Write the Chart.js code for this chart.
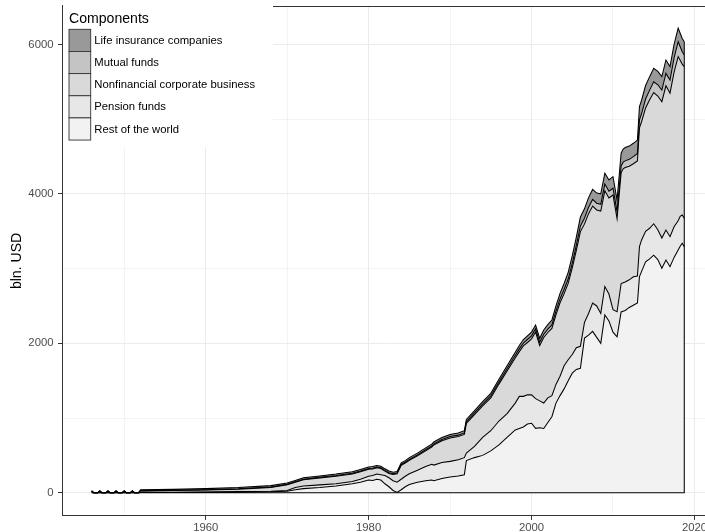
<!DOCTYPE html>
<html><head><meta charset="utf-8">
<script src="https://cdn.jsdelivr.net/npm/chart.js@4.4.1/dist/chart.umd.min.js"></script>
<style>
html,body{margin:0;padding:0;background:#fff;overflow:hidden;width:705px;height:532px;}
#wrap{position:relative;width:730px;height:532px;}
canvas{display:block;}
</style></head><body>
<div id="wrap"><canvas id="c" width="730" height="532"></canvas></div>
<script>
// ---- data (bln. USD) ----
const years = [
 1946,1946.25,1946.75,1947,1947.25,1947.75,1948,1948.25,1948.75,
 1949,1949.25,1949.75,1950,1950.25,1950.75,1951,1951.25,1951.75,
 1952,1956,1960,1964,1968,1970,1971,1972,1974,1976,
 1978,1979,1980,1980.5,1981,1981.5,1982,1982.5,1983,1983.5,
 1984,1984.5,1985,1986,1987,1987.75,1988,1989,1990,1991,
 1991.75,1992,1993,1994,1995,1996,1997,1998,1998.5,1999,
 1999.5,2000,2000.5,2001,2001.5,2002,2002.5,2003,2003.5,2004,
 2004.5,2005,2005.5,2006,2006.5,2007,2007.5,2008,2008.5,2009,
 2009.5,2010,2010.5,2011,2011.25,2011.5,2012,2012.5,2013,2013.25,
 2013.5,2014,2014.5,2015,2015.5,2016,2016.5,2017,2017.5,2018,
 2018.25,2018.5,2018.75];

const restOfWorld = [
 5,0,0,5,0,0,5,0,0, 5,0,0,5,0,0,5,0,0,
 2,3,5,8,12,20,40,55,70,90,
 120,140,170,165,180,170,120,80,30,5,
 40,80,110,140,160,170,160,190,210,225,
 240,430,470,500,560,640,740,840,860,880,
 920,930,862,870,860,940,1017,1200,1300,1390,
 1500,1600,1650,1665,2070,2110,2160,2080,2000,2380,
 2300,2150,2088,2420,2430,2440,2480,2510,2540,2892,
 2960,3090,3130,3180,3120,3004,3115,3025,3150,3250,
 3300,3339,3293];

const pensionFunds = [
 8,0,0,8,0,0,8,0,0, 8,0,0,8,0,0,8,0,0,
 3,4,5,7,8,10,30,35,35,30,
 30,40,50,65,70,70,110,120,130,135,
 140,140,145,160,190,210,210,215,210,215,
 230,101,150,240,270,320,320,360,430,410,
 390,380,398,360,340,330,283,250,260,310,
 280,250,290,295,210,290,380,420,400,380,
 360,300,335,380,380,380,370,380,360,401,
 420,410,410,420,400,406,402,402,411,390,
 400,378,380];

const nonfinancialCorp = [
 8,0,0,8,0,0,8,0,0, 8,0,0,8,0,0,8,0,0,
 20,22,26,33,52,76,71,84,94,102,
 101,100,94,89,84,84,59,59,84,114,
 187,177,180,193,211,230,269,292,314,312,
 310,398,426,423,439,494,569,603,599,675,
 701,750,891,741,878,875,900,930,982,965,
 1022,1160,1305,1535,1315,1335,1297,1285,1370,1281,
 1286,1535,1245,1484,1525,1532,1520,1514,1542,1592,
 1582,1650,1719,1756,1790,1824,1930,1921,2069,2198,
 2090,2020,2030];

const mutualFunds = [
 2,0,0,2,0,0,2,0,0, 2,0,0,2,0,0,2,0,0,
 3,3,4,5,5,6,6,7,7,8,
 9,10,10,10,10,10,10,10,10,10,
 11,11,12,13,14,15,15,16,18,19,
 20,21,22,24,26,28,31,34,36,38,
 40,40,42,42,44,45,47,50,52,55,
 58,60,65,75,80,85,89,90,90,90,
 90,90,90,90,90,90,92,95,100,105,
 110,120,130,145,150,155,165,175,190,199,
 180,165,156];

const lifeInsurance = [
 4,0,0,4,0,0,4,0,0, 4,0,0,4,0,0,4,0,0,
 12,13,15,17,18,18,18,19,19,20,
 20,20,21,21,21,21,21,21,21,21,
 22,22,23,24,25,25,26,27,28,29,
 30,30,32,33,35,38,40,43,45,47,
 49,50,52,54,56,60,65,70,75,80,
 90,100,110,120,125,130,134,135,140,145,
 150,155,160,170,175,178,178,178,178,178,
 178,180,180,180,180,180,180,180,180,180,
 180,178,178];

const seriesNames = ['Rest of the world','Pension funds','Nonfinancial corporate business','Mutual funds','Life insurance companies'];
const xMajorTicks = [1960,1980,2000,2020];
const xMinorTicks = [1950,1970,1990,2010];
const yMajorTicks = [0,2000,4000,6000];
const yMinorTicks = [1000,3000,5000];

// ---- styles ----
const fillColors = ['#f2f2f2','#e7e7e7','#d9d9d9','#c4c4c4','#999999'];
const FONT = '"Liberation Sans", Arial, Helvetica, sans-serif';
Chart.defaults.font.family = FONT;

const seriesValues = [restOfWorld, pensionFunds, nonfinancialCorp, mutualFunds, lifeInsurance];
const datasets = seriesValues.map((vals, k) => ({
  label: seriesNames[k],
  data: years.map((yr, i) => ({x: yr, y: vals[i]})),
  backgroundColor: fillColors[k],
  borderColor: '#000',
  borderWidth: 1.05,
  pointRadius: 0,
  tension: 0,
  fill: k === 0 ? 'origin' : '-1'
}));

const edgePlugin = {
  id: 'areaEdges',
  afterDatasetsDraw(chart) {
    const ctx = chart.ctx, xs = chart.scales.x, ys = chart.scales.y;
    const last = years.length - 1;
    const topMeta = chart.getDatasetMeta(datasets.length - 1);
    const xl = xs.getPixelForValue(years[last]);
    const x0 = xs.getPixelForValue(years[0]);
    const y0 = ys.getPixelForValue(0);
    ctx.save();
    ctx.strokeStyle = '#000'; ctx.lineWidth = 1.05;
    ctx.beginPath();
    ctx.moveTo(x0, y0); ctx.lineTo(xl, y0);
    ctx.lineTo(xl, topMeta.data[last].y);
    ctx.stroke();
    ctx.restore();
  }
};

const legendPlugin = {
  id: 'ggLegend',
  afterDraw(chart) {
    const ctx = chart.ctx, ca = chart.chartArea;
    ctx.save();
    // top panel border
    ctx.strokeStyle = '#333'; ctx.lineWidth = 1;
    ctx.beginPath(); ctx.moveTo(ca.left, Math.round(ca.top) + 0.5); ctx.lineTo(ca.right, Math.round(ca.top) + 0.5); ctx.stroke();
    // legend background
    ctx.fillStyle = '#fff';
    ctx.fillRect(63, 0, 210, 147);
    ctx.fillStyle = '#000';
    ctx.font = '14.1px ' + FONT;
    ctx.textBaseline = 'alphabetic';
    ctx.textAlign = 'left';
    ctx.fillText('Components', 69, 23);
    const ds = chart.data.datasets.slice().reverse();
    const keyH = 22.15, keyW = 21.7, kx = 69, ky = 29.3;
    ds.forEach((d, i) => {
      const y = ky + i * keyH;
      ctx.fillStyle = d.backgroundColor;
      ctx.fillRect(kx, y, keyW, keyH);
      ctx.strokeStyle = '#333'; ctx.lineWidth = 0.9;
      ctx.strokeRect(kx, y, keyW, keyH);
      ctx.fillStyle = '#000';
      ctx.font = '11.3px ' + FONT;
      ctx.textBaseline = 'middle';
      ctx.fillText(d.label, 94.3, y + keyH / 2 + 0.5);
    });
    ctx.restore();
  }
};

const allX = xMinorTicks.concat(xMajorTicks).sort((a,b)=>a-b);
const allY = yMinorTicks.concat(yMajorTicks).sort((a,b)=>a-b);

new Chart(document.getElementById('c'), {
  type: 'line',
  data: { datasets },
  plugins: [edgePlugin, legendPlugin],
  options: {
    responsive: false,
    animation: false,
    devicePixelRatio: 1,
    layout: { padding: { top: 5.9, right: 16, left: 0, bottom: 0 } },
    plugins: {
      legend: { display: false },
      tooltip: { enabled: false },
      filler: { drawTime: 'beforeDatasetsDraw' }
    },
    scales: {
      x: {
        type: 'linear', min: 1942.36, max: 2022.4,
        afterBuildTicks: s => { s.ticks = allX.map(v => ({value: v})); },
        afterFit: s => { s.height = 16.1; s.paddingLeft = 0; s.paddingRight = 0; s.paddingTop = 0; s.paddingBottom = 0; },
        ticks: {
          autoSkip: false, maxRotation: 0, padding: 1,
          color: '#4d4d4d', font: { size: 11.3 },
          callback: v => xMajorTicks.includes(v) ? String(v) : ''
        },
        grid: {
          color: '#ebebeb',
          lineWidth: c => (c.tick && xMajorTicks.includes(c.tick.value)) ? 1 : 0.6,
          tickColor: c => (c.tick && xMajorTicks.includes(c.tick.value)) ? '#333' : 'rgba(0,0,0,0)',
          tickLength: 4
        },
        border: { display: true, color: '#333', width: 1 }
      },
      y: {
        type: 'linear', stacked: true, min: -310, max: 6516,
        afterBuildTicks: s => { s.ticks = allY.map(v => ({value: v})); },
        afterFit: s => { s.width = 62; s.paddingTop = 0; s.paddingBottom = 0; s.paddingLeft = 0; s.paddingRight = 0; },
        ticks: {
          autoSkip: false, padding: 4.5,
          color: '#4d4d4d', font: { size: 11.3 },
          callback: v => yMajorTicks.includes(v) ? String(v) : ''
        },
        grid: {
          color: '#ebebeb',
          lineWidth: c => (c.tick && yMajorTicks.includes(c.tick.value)) ? 1 : 0.6,
          tickColor: c => (c.tick && yMajorTicks.includes(c.tick.value)) ? '#333' : 'rgba(0,0,0,0)',
          tickLength: 4
        },
        border: { display: true, color: '#333', width: 1 },
        title: {
          display: true, text: 'bln. USD', color: '#000',
          font: { size: 14.1 }, padding: { top: 8.5, bottom: 0 }
        }
      }
    }
  }
});
</script>
</body></html>
